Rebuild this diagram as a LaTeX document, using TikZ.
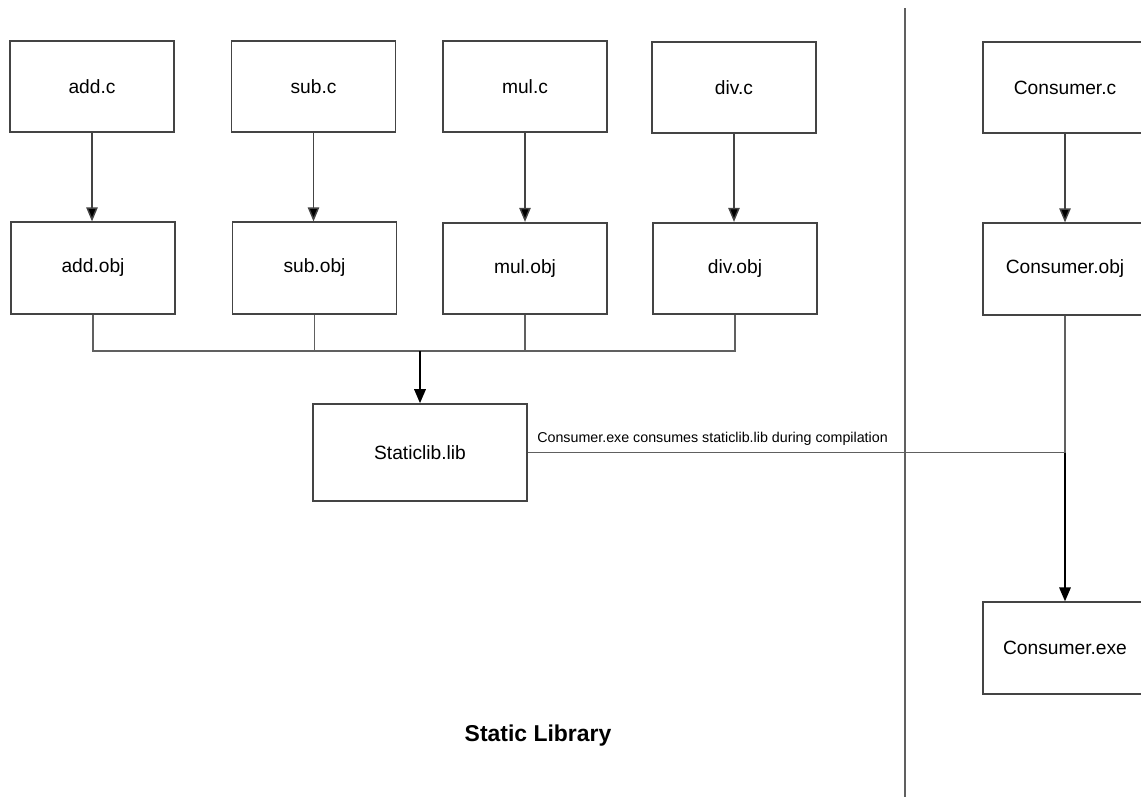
\documentclass[tikz,border=0pt]{standalone}
\usepackage{fontspec}
\setmainfont{Liberation Sans}
\usetikzlibrary{arrows.meta}
\definecolor{edge}{HTML}{444444}
\begin{document}
\begin{tikzpicture}[x=0.75pt,y=-0.75pt,
  filebox/.style={draw=edge,line width=1.4pt,minimum width=123pt,minimum height=68.5pt,
    inner sep=0pt,font=\fontsize{14.4}{16}\selectfont},
  wire/.style={draw=edge!85!white,line width=1.1pt},
  flow/.style={draw=edge,line width=1.1pt,-{Triangle[length=10.5pt,width=8.5pt,fill=black]}},
  strongflow/.style={draw=black,line width=1.6pt,-{Triangle[length=10.5pt,width=8.5pt]}}]
\clip (0,0) rectangle (1141,797);
\fill[white] (0,0) rectangle (1141,797);

% source and object files
\node[filebox] (addc)   at (92,86.5)  {add.c};
\node[filebox] (addobj) at (93,268)   {add.obj};
\node[filebox] (subc)   at (313.5,86.5) {sub.c};
\node[filebox] (subobj) at (314.5,268)  {sub.obj};
\node[filebox] (mulc)   at (525,86.5) {mul.c};
\node[filebox] (mulobj) at (525,268.5) {mul.obj};
\node[filebox] (divc)   at (734,87.5) {div.c};
\node[filebox] (divobj) at (735,268.5) {div.obj};
\node[filebox] (consc)   at (1065,87.5) {Consumer.c};
\node[filebox] (consobj) at (1065,269)  {Consumer.obj};
\node[filebox] (consexe) at (1065,648)  {Consumer.exe};
\node[filebox,minimum width=160.5pt,minimum height=72.5pt] (lib) at (420,452.5) {Staticlib.lib};

% compile steps
\draw[flow] (addc.south) -- (addc.south |- addobj.north);
\draw[flow] (subc.south) -- (subc.south |- subobj.north);
\draw[flow] (mulc.south) -- (mulc.south |- mulobj.north);
\draw[flow] (divc.south) -- (divc.south |- divobj.north);
\draw[flow] (consc.south) -- (consc.south |- consobj.north);

% archive bus
\coordinate (bus) at (0,351);
\draw[wire] (addobj.south) |- (divobj.south |- bus) -- (divobj.south);
\draw[wire] (subobj.south) -- (subobj.south |- bus);
\draw[wire] (mulobj.south) -- (mulobj.south |- bus);
\draw[strongflow] (lib.north |- bus) -- (lib.north);

% link step
\draw[wire] (consobj.south) -- (consobj.south |- lib.east) coordinate (join);
\draw[wire] (lib.east) -- (join);
\draw[strongflow] (join) -- (consexe.north);
\node[anchor=south west,inner sep=0pt,font=\fontsize{10.7}{12}\selectfont]
  (note) at (537,446) {Consumer.exe consumes staticlib.lib during compilation};

% divider
\coordinate (divtop) at (905,8);
\coordinate (divbot) at (905,797);
\draw[wire] (divtop) -- (divbot);

\node[font=\bfseries\fontsize{17.2}{20}\selectfont] (title) at (538,736) {Static Library};
\end{tikzpicture}
\end{document}
